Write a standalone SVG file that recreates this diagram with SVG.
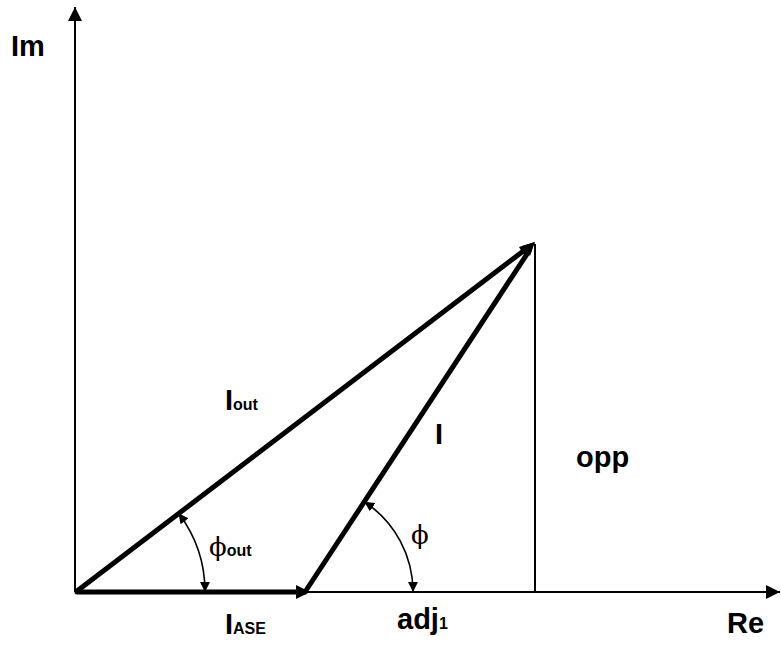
<svg xmlns="http://www.w3.org/2000/svg" width="781" height="645" viewBox="0 0 781 645">
<style>
.lbl{font-family:"Liberation Sans",Arial,sans-serif;font-weight:bold;fill:#000}
.big{font-size:29px}
.sub{font-size:16px}
.phi{font-family:"DejaVu Serif","Liberation Serif",serif;font-size:26px;fill:#000}
.thin{stroke:#000;stroke-width:2;fill:none}
.thick{stroke:#000;stroke-width:5;fill:none;stroke-linecap:round}
.arc{stroke:#000;stroke-width:1.6;fill:none}
</style>
<defs>
<marker id="ah" markerUnits="userSpaceOnUse" markerWidth="16" markerHeight="14" refX="14" refY="7" orient="auto">
<path d="M0,0 L14,7 L0,14 Z" fill="#000"/>
</marker>
<marker id="ahs" markerUnits="userSpaceOnUse" markerWidth="12" markerHeight="10" refX="10" refY="5" orient="auto-start-reverse">
<path d="M0,0 L10,5 L0,10 Z" fill="#000"/>
</marker>
</defs>
<g id="connectors">
<line id="y-axis" class="thin" x1="75" y1="592" x2="75" y2="7" marker-end="url(#ah)"/>
<line id="x-axis" class="thin" x1="75" y1="592" x2="780" y2="592" marker-end="url(#ah)"/>
<line id="opp-line" class="thin" x1="535" y1="592" x2="535" y2="244"/>
<line id="iase-vec" class="thick" x1="77" y1="592" x2="300" y2="592"/>
<path d="M296,585 L310,592 L296,599 Z" fill="#000"/>
<line id="iout-vec" class="thick" x1="77" y1="591" x2="526" y2="249"/>
<line id="i-vec" class="thick" x1="305" y1="592" x2="529" y2="251"/>
<path d="M535,242 L526,258 L519,247 Z" fill="#000"/>
<path d="M535,242 L530,256 L522,246 Z" fill="#000"/>
<path id="arc-phiout" class="arc" d="M178.5,513.3 A130,130 0 0 1 205,592" marker-start="url(#ahs)" marker-end="url(#ahs)"/>
<path id="arc-phi" class="arc" d="M364.3,501.7 A108,108 0 0 1 413,592" marker-start="url(#ahs)" marker-end="url(#ahs)"/>
</g>
<g id="label-im"><text class="lbl big" x="11" y="56">Im</text></g>
<g id="label-re"><text class="lbl big" x="727" y="633">Re</text></g>
<g id="label-iout"><text class="lbl big" x="225" y="410">I<tspan class="sub">out</tspan></text></g>
<g id="label-i"><text class="lbl big" x="435" y="444">I</text></g>
<g id="label-opp"><text class="lbl big" x="576" y="467">opp</text></g>
<g id="label-iase"><text class="lbl big" x="225" y="634">I<tspan class="sub">ASE</tspan></text></g>
<g id="label-adj"><text class="lbl big" x="397" y="629">adj<tspan class="sub">1</tspan></text></g>
<g id="label-phiout"><text class="phi" x="209" y="556">ϕ<tspan class="lbl sub">out</tspan></text></g>
<g id="label-phi"><text class="phi" x="411" y="544">ϕ</text></g>
</svg>
